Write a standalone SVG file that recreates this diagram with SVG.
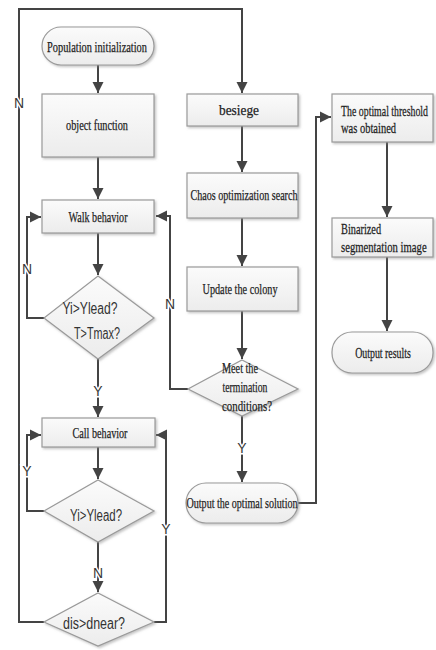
<svg xmlns="http://www.w3.org/2000/svg" width="436" height="650" viewBox="0 0 436 650">
<style>
.box{fill:url(#g);stroke:#9a9a9a;stroke-width:1.2;filter:url(#sh)}
.box2{fill:url(#g);stroke:#9a9a9a;stroke-width:1.2;filter:url(#sh2)}
.t{font-family:"Liberation Serif","Times New Roman",serif;font-size:15px;fill:#1e1e1e;stroke:#1e1e1e;stroke-width:0.25}
.s{font-family:"Liberation Sans",Arial,sans-serif;font-size:16px;fill:#333}
.lbl{font-family:"Liberation Sans",Arial,sans-serif;font-size:14px;fill:#3a3a3a;stroke:#fff;stroke-width:3;paint-order:stroke}
.c{fill:none;stroke:#444;stroke-width:2}
</style>
<defs>
<linearGradient id="g" x1="0" y1="0" x2="0" y2="1">
<stop offset="0" stop-color="#fbfbfb"/>
<stop offset="1" stop-color="#ececec"/>
</linearGradient>
<filter id="sh" x="-10%" y="-10%" width="130%" height="140%">
<feDropShadow dx="1.5" dy="1.5" stdDeviation="1" flood-color="#888" flood-opacity="0.5"/>
</filter>
<filter id="sh2" filterUnits="userSpaceOnUse" x="325" y="0" width="111" height="650">
<feDropShadow dx="1.5" dy="1.5" stdDeviation="1" flood-color="#888" flood-opacity="0.5"/>
</filter>
<marker id="ah" viewBox="0 0 10 10" refX="10" refY="5" markerWidth="5.5" markerHeight="6" markerUnits="strokeWidth" orient="auto">
<path d="M0,0 L10,5 L0,10 z" fill="#444"/>
</marker>
</defs>
<rect width="436" height="650" fill="#fff"/>

<g id="connectors">
<path class="c" d="M98,65 V93" marker-end="url(#ah)"/>
<path class="c" d="M98,157 V199" marker-end="url(#ah)"/>
<path class="c" d="M98,233 V275" marker-end="url(#ah)"/>
<path class="c" d="M44,318 H27 V217 H41" marker-end="url(#ah)"/>
<path class="c" d="M98,359 V417" marker-end="url(#ah)"/>
<path class="c" d="M98,447 V479" marker-end="url(#ah)"/>
<path class="c" d="M44,511 H27 V435 H41" marker-end="url(#ah)"/>
<path class="c" d="M98,542 V592" marker-end="url(#ah)"/>
<path class="c" d="M154,622 H166 V435 H156" marker-end="url(#ah)"/>
<path class="c" d="M44,622 H19 V9 H242 V93" marker-end="url(#ah)"/>
<path class="c" d="M242,126 V172" marker-end="url(#ah)"/>
<path class="c" d="M242,218 V266" marker-end="url(#ah)"/>
<path class="c" d="M242,311 V359" marker-end="url(#ah)"/>
<path class="c" d="M188,389 H170 V216 H156" marker-end="url(#ah)"/>
<path class="c" d="M242,416 V482" marker-end="url(#ah)"/>
<path class="c" d="M298,503 H316 V117 H331" marker-end="url(#ah)"/>
<path class="c" d="M387,142 V217" marker-end="url(#ah)"/>
<path class="c" d="M387,257 V331" marker-end="url(#ah)"/>
<text class="lbl" x="19" y="108" text-anchor="middle">N</text>
<text class="lbl" x="27" y="274" text-anchor="middle">N</text>
<text class="lbl" x="98" y="396" text-anchor="middle">Y</text>
<text class="lbl" x="27" y="476" text-anchor="middle">Y</text>
<text class="lbl" x="98" y="578" text-anchor="middle">N</text>
<text class="lbl" x="166" y="534" text-anchor="middle">Y</text>
<text class="lbl" x="170" y="309" text-anchor="middle">N</text>
<text class="lbl" x="242" y="453" text-anchor="middle">Y</text>
</g>

<g id="pop-init">
<rect class="box" x="42" y="27" width="112" height="38" rx="19"/>
<text class="t" x="97" y="52" text-anchor="middle" textLength="100" lengthAdjust="spacingAndGlyphs">Population initialization</text>
</g>
<g id="object-function">
<rect class="box" x="42" y="94" width="112" height="63"/>
<text class="t" x="97" y="130" text-anchor="middle" textLength="62" lengthAdjust="spacingAndGlyphs">object function</text>
</g>
<g id="walk">
<rect class="box" x="42" y="200" width="112" height="33"/>
<text class="t" x="98" y="222" text-anchor="middle" textLength="59" lengthAdjust="spacingAndGlyphs">Walk behavior</text>
</g>
<g id="d-walk">
<polygon class="box" points="98,276 154,318 98,359 44,318"/>
<text class="s" x="90" y="314" text-anchor="middle" textLength="55" lengthAdjust="spacingAndGlyphs">Yi&gt;Ylead?</text>
<text class="s" x="97" y="339" text-anchor="middle" textLength="46" lengthAdjust="spacingAndGlyphs">T&gt;Tmax?</text>
</g>
<g id="call">
<rect class="box" x="42" y="418" width="113" height="29"/>
<text class="t" x="100" y="438" text-anchor="middle" textLength="55" lengthAdjust="spacingAndGlyphs">Call behavior</text>
</g>
<g id="d-call">
<polygon class="box" points="98,480 154,511 98,542 44,511"/>
<text class="s" x="96" y="521" text-anchor="middle" textLength="52" lengthAdjust="spacingAndGlyphs">Yi&gt;Ylead?</text>
</g>
<g id="d-dist">
<polygon class="box" points="98,593 154,622 98,646 44,622"/>
<text class="s" x="94" y="629" text-anchor="middle" textLength="62" lengthAdjust="spacingAndGlyphs">dis&gt;dnear?</text>
</g>
<g id="besiege">
<rect class="box" x="187" y="94" width="111" height="32"/>
<text class="t" x="239" y="115" text-anchor="middle" textLength="40" lengthAdjust="spacingAndGlyphs">besiege</text>
</g>
<g id="chaos">
<rect class="box" x="187" y="173" width="111" height="45"/>
<text class="t" x="244" y="200" text-anchor="middle" textLength="107" lengthAdjust="spacingAndGlyphs">Chaos optimization search</text>
</g>
<g id="update">
<rect class="box" x="187" y="267" width="111" height="44"/>
<text class="t" x="240" y="294" text-anchor="middle" textLength="75" lengthAdjust="spacingAndGlyphs">Update the colony</text>
</g>
<g id="d-term">
<polygon class="box" points="242,360 298,389 242,416 188,389"/>
<text class="t" x="240" y="373" text-anchor="middle" textLength="36" lengthAdjust="spacingAndGlyphs">Meet the</text>
<text class="t" x="245" y="392" text-anchor="middle" textLength="45" lengthAdjust="spacingAndGlyphs">termination</text>
<text class="t" x="247" y="411" text-anchor="middle" textLength="50" lengthAdjust="spacingAndGlyphs">conditions?</text>
</g>
<g id="output-solution">
<rect class="box" x="186" y="483" width="112" height="40" rx="20"/>
<text class="t" x="242" y="508" text-anchor="middle" textLength="111" lengthAdjust="spacingAndGlyphs">Output the optimal solution</text>
</g>
<g id="threshold">
<rect class="box2" x="332" y="94" width="101" height="48"/>
<text class="t" transform="translate(341,116) scale(0.68,1)" textLength="128" lengthAdjust="spacingAndGlyphs">The optimal threshold</text>
<text class="t" transform="translate(341,133) scale(0.68,1)" textLength="81" lengthAdjust="spacingAndGlyphs">was obtained</text>
</g>
<g id="binarized">
<rect class="box2" x="332" y="218" width="101" height="39"/>
<text class="t" transform="translate(341,234) scale(0.68,1)" textLength="59" lengthAdjust="spacingAndGlyphs">Binarized</text>
<text class="t" transform="translate(341,252) scale(0.68,1)" textLength="126" lengthAdjust="spacingAndGlyphs">segmentation image</text>
</g>
<g id="output-results">
<rect class="box2" x="332" y="332" width="101" height="41" rx="20"/>
<text class="t" transform="translate(383,358) scale(0.68,1)" text-anchor="middle" textLength="82" lengthAdjust="spacingAndGlyphs">Output results</text>
</g>
</svg>
